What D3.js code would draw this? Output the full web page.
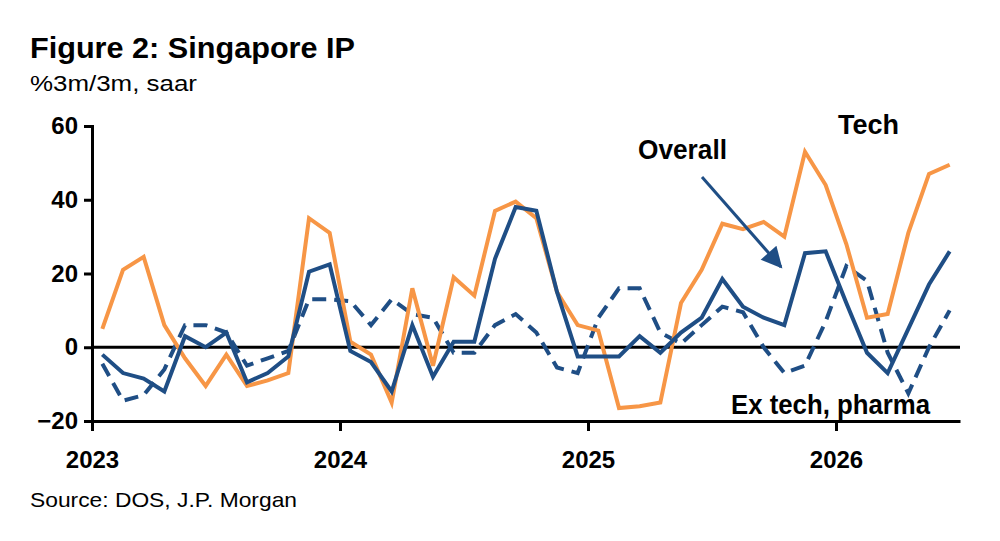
<!DOCTYPE html>
<html><head><meta charset="utf-8">
<script src="https://cdn.jsdelivr.net/npm/d3@7"></script>
<style>body{margin:0;background:#fff;font-family:"Liberation Sans",Arial,sans-serif;}</style>
</head><body><div id="chart"></div>
<script>
// monthly, Jan 2023 .. Jun 2026
const tech = [5,21,24.5,6,-3,-10.5,-2,-10.5,-9,-7,35,31,1.5,-2,-15,16,-5,19,14,37,39.5,35,15,6,4.5,-16.5,-16,-15,12,21,33.5,32,34,30,53,44,28,8,9,31,47,49.5];
const overall = [-2,-7,-8.5,-12,3,0,4,-9.5,-7,-2.5,20.5,22.5,-1,-4,-12,6,-8,1.5,1.5,24,38,37,15,-2.5,-2.5,-2.5,3,-1.5,4,8,18.5,11,8,6,25.5,26,12,-1.5,-7,5,17,26];
const exTech = [-4.5,-14.5,-13,-6,6,6,4,-5,-3,-1,13,13,12.5,6,13,9,8,-1.5,-1.5,6,9,4,-5.5,-7,8,16,16,4,1,6,11,9.5,0,-7,-5,7,22,18,-1.5,-12.5,0,10];
const years = [2023,2024,2025,2026];
const yTicks = [-20,0,20,40,60];

const svg = d3.select('#chart').append('svg').attr('width',1000).attr('height',541);
const blue = '#1f4e85', orange = '#f79646';

// x in month units, 0 = start of Jan 2023
const x = d3.scaleLinear().domain([0,42]).range([92,960]);
const y = d3.scaleLinear().domain([-20,60]).range([421,126]);

const txt = (t,xx,yy,size,bold,len)=>svg.append('text').attr('x',xx).attr('y',yy).attr('font-size',size)
  .attr('font-weight',bold?'bold':'normal').attr('textLength',len).attr('lengthAdjust','spacingAndGlyphs').text(t);

txt('Figure 2: Singapore IP',30,58,30,true,325);
txt('%3m/3m, saar',30,91,22,false,167);
txt('Source: DOS, J.P. Morgan',30,507,21,false,267);

const yAxis = svg.append('g').attr('transform','translate(92,0)')
  .call(d3.axisLeft(y).tickValues(yTicks).tickSize(8).tickPadding(6));
yAxis.select('.domain').attr('stroke-width',3);
yAxis.selectAll('line').attr('stroke-width',3);
yAxis.selectAll('text').attr('font-size',24).attr('font-weight','bold').attr('font-family','Liberation Sans, Arial');

const xAxis = svg.append('g').attr('transform','translate(0,421)')
  .call(d3.axisBottom(x).tickValues(years.map((d,i)=>i*12)).tickSize(10).tickPadding(20).tickFormat((d,i)=>years[i]).tickSizeOuter(0));
xAxis.select('.domain').attr('stroke-width',3);
xAxis.selectAll('line').attr('stroke-width',3);
xAxis.selectAll('text').attr('font-size',24).attr('font-weight','bold').attr('font-family','Liberation Sans, Arial');

svg.append('line').attr('x1',92).attr('x2',960).attr('y1',y(0)).attr('y2',y(0)).attr('stroke','#000').attr('stroke-width',3);

const line = d3.line().x((d,i)=>x(i+0.5)).y(d=>y(d));
svg.append('path').datum(exTech).attr('d',line).attr('fill','none').attr('stroke',blue).attr('stroke-width',4).attr('stroke-dasharray','14,8');
svg.append('path').datum(tech).attr('d',line).attr('fill','none').attr('stroke',orange).attr('stroke-width',4);
svg.append('path').datum(overall).attr('d',line).attr('fill','none').attr('stroke',blue).attr('stroke-width',4);

svg.append('defs').append('marker').attr('id','ah').attr('viewBox','0 0 10 10').attr('refX',9).attr('refY',5)
  .attr('markerWidth',9).attr('markerHeight',7).attr('markerUnits','strokeWidth').attr('orient','auto')
  .append('path').attr('d','M0,0L10,5L0,10z').attr('fill',blue);
svg.append('line').attr('x1',702).attr('y1',177).attr('x2',781).attr('y2',267).attr('stroke',blue).attr('stroke-width',3).attr('marker-end','url(#ah)');

txt('Tech',838,134,27,true,61);
txt('Overall',638,159,27,true,89);
txt('Ex tech, pharma',731,414,27,true,199);
</script></body></html>
